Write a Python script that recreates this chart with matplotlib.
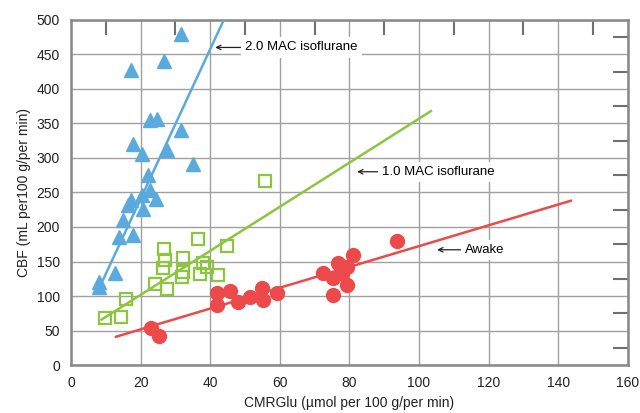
import numpy as np
from matplotlib import pyplot as plt
from matplotlib.ticker import MultipleLocator

plt.rcParams['font.family'] = ['Liberation Sans', 'DejaVu Sans']
# inner ticks only on top and right
plt.rcParams.update({
    'xtick.top': True, 'xtick.bottom': False,
    'ytick.right': True, 'ytick.left': False,
    'xtick.direction': 'in', 'ytick.direction': 'in',
    'xtick.major.size': 0, 'ytick.major.size': 0,
    'xtick.minor.size': 11, 'ytick.minor.size': 11,
    'xtick.minor.width': 1.5, 'ytick.minor.width': 1.5,
    'xtick.color': '#707070', 'ytick.color': '#707070',
    'xtick.labelcolor': '#222222', 'ytick.labelcolor': '#222222',
})

# 2.0 MAC isoflurane (triangles)
mac2_x = [31.5, 26.7, 17.2, 22.7, 24.8, 31.5, 17.7, 20.4, 27.7, 35.0, 22.1,
          20.4, 22.7, 24.4, 17.2, 20.8, 16.5, 14.9, 13.9, 17.7, 12.6, 8.1, 7.9]
mac2_y = [480, 441, 427, 355, 356, 341, 320, 306, 311, 291, 275,
          246, 254, 241, 239, 226, 232, 210, 185, 188, 133, 121, 113]

# 1.0 MAC isoflurane (open squares)
mac1_x = [9.8, 14.4, 15.7, 24.1, 27.5, 26.8, 27.0, 26.5, 31.8, 32.2, 32.1,
          36.6, 37.0, 38.0, 39.0, 42.3, 44.7, 55.7]
mac1_y = [68, 70, 96, 117, 110, 168, 152, 140, 128, 135, 155,
          183, 132, 148, 142, 131, 172, 267]

# Awake (circles)
awake_x = [22.9, 25.4, 41.9, 41.9, 45.7, 48.1, 51.4, 54.8, 55.1, 59.1,
           72.5, 75.4, 76.8, 79.2, 80.9, 79.2, 75.4, 77.8, 93.6]
awake_y = [53, 42, 104, 87, 108, 92, 99, 111, 94, 104,
           134, 126, 148, 142, 159, 116, 101, 133, 180]

# regression lines: (x start, x end, intercept, slope)
fit_mac2 = (7.4, 43.8, 23.7, 10.85)
fit_mac1 = (8.8, 103.4, 37.9, 3.19)
fit_awake = (12.9, 143.6, 21.6, 1.507)

blue = '#5aaade'
green = '#8cc63f'
red = '#ec4a4a'

fig = plt.figure(figsize=(6.4, 4.13), dpi=100)
ax = fig.add_axes([0.111, 0.116, 0.87, 0.836])

for (x0, x1, b, m), c in [(fit_mac2, blue), (fit_mac1, green), (fit_awake, red)]:
    xs = np.array([x0, x1])
    ax.plot(xs, b + m * xs, color=c, lw=1.8, zorder=3)

ax.plot(mac2_x, mac2_y, '^', color=blue, ms=10, mec=blue, zorder=4)
ax.plot(mac1_x, mac1_y, 's', mfc='none', mec=green, mew=1.6, ms=9, zorder=4)
ax.plot(awake_x, awake_y, 'o', color=red, ms=10, zorder=4)

ax.set_xlim(0, 160)
ax.set_ylim(0, 500)
ax.xaxis.set_major_locator(MultipleLocator(20))
ax.yaxis.set_major_locator(MultipleLocator(50))
ax.xaxis.set_minor_locator(MultipleLocator(10))
ax.yaxis.set_minor_locator(MultipleLocator(25))
ax.grid(True, which='major', color='#a0a0a0', lw=1)
ax.set_axisbelow(True)
ax.tick_params(which='major', length=0, labelsize=10, pad=8,
               labelbottom=True, labelleft=True, labeltop=False, labelright=False)
ax.tick_params(which='minor', direction='in', length=11, width=1.5, color='#707070',
               top=True, bottom=False, right=True, left=False)
ax.xaxis.get_minor_ticks()
ax.yaxis.get_minor_ticks()
for s in ax.spines.values():
    s.set_color('#888888')
    s.set_linewidth(1.8)

ax.set_xlabel('CMRGlu (µmol per 100 g/per min)', fontsize=10, color='#222222')
ax.set_ylabel('CBF (mL per100 g/per min)', fontsize=10, color='#222222')

arrow = dict(arrowstyle='->', lw=0.9, color='#222222', shrinkA=0, shrinkB=0,
             mutation_scale=8)
box = dict(fc='white', ec='none', pad=3)
ax.annotate('2.0 MAC isoflurane', xy=(41.4, 460), xytext=(50.0, 460),
            ha='left', va='center', fontsize=9.5, arrowprops=arrow, bbox=box, zorder=5)
ax.annotate('1.0 MAC isoflurane', xy=(82.2, 280), xytext=(89.4, 280),
            ha='left', va='center', fontsize=9.5, arrowprops=arrow, bbox=box, zorder=5)
ax.annotate('Awake', xy=(105.2, 167), xytext=(113.2, 167),
            ha='left', va='center', fontsize=9.5, arrowprops=arrow, bbox=box, zorder=5)

fig.savefig('out.png', dpi=100)
